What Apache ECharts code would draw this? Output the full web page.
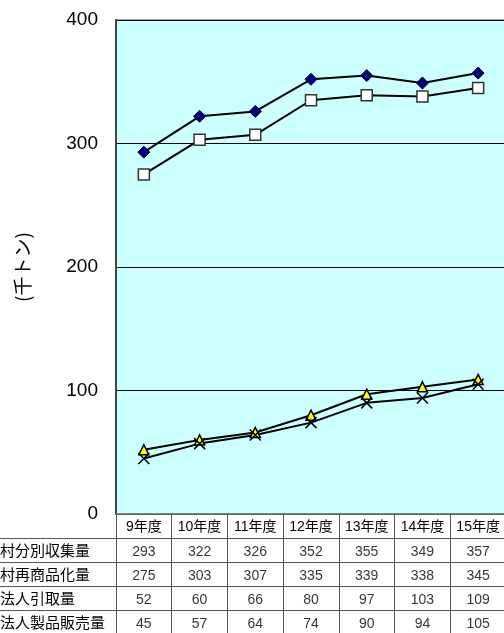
<!DOCTYPE html>
<html>
<head>
<meta charset="utf-8">
<script src="https://cdn.jsdelivr.net/npm/echarts@6/dist/echarts.min.js"></script>
<style>
html,body{margin:0;padding:0;background:#fff;}
#c{width:504px;height:633px;}
</style>
</head>
<body>
<div id="c"></div>
<script>
var categories = ['9年度','10年度','11年度','12年度','13年度','14年度','15年度'];
var rowLabels = ['市町村分別収集量','市町村再商品化量','指定法人引取量','指定法人製品販売量'];
var collected = [293,322,326,352,355,349,357];
var recycled = [275,303,307,335,339,338,345];
var takenOver = [52,60,66,80,97,103,109];
var sold = [45,57,64,74,90,94,105];
var yTicks = [0,100,200,300,400];
var yName = '(千トン)';

var seriesValues = [collected, recycled, takenOver, sold];
var FONT = '"Liberation Sans", Arial, "Noto Sans CJK JP", sans-serif';
var CJK = '"Noto Sans CJK JP", "Liberation Sans", sans-serif';
var TL = '#555';

var chart = echarts.init(document.getElementById('c'), null, {renderer:'canvas'});

var lineSeries = [
  {name: rowLabels[0], data: collected, symbol: 'diamond', symbolSize: 12,
   itemStyle: {color: '#000080', borderColor: '#000', borderWidth: 1}},
  {name: rowLabels[1], data: recycled, symbol: 'rect', symbolSize: 11,
   itemStyle: {color: '#fff', borderColor: '#333', borderWidth: 1.5}},
  {name: rowLabels[2], data: takenOver, symbol: 'triangle', symbolSize: 10,
   itemStyle: {color: '#ffff00', borderColor: '#000', borderWidth: 1.5}},
  {name: rowLabels[3], data: sold, symbol: 'path://M0,0L10,10M10,0L0,10', symbolSize: 11,
   itemStyle: {color: 'rgba(0,0,0,0)', borderColor: '#000', borderWidth: 1.5}}
].map(function(s){
  return Object.assign({type:'line', xAxisIndex:0, yAxisIndex:0,
    lineStyle:{color:'#000', width:2}, showSymbol:true, animation:false, z:3}, s);
});

var cellSeries = seriesValues.map(function(vals, r){
  return {
    type: 'scatter', xAxisIndex: 1, yAxisIndex: 1, animation: false,
    symbolSize: 1, itemStyle: {color: 'rgba(0,0,0,0)'}, silent: true,
    data: vals.map(function(v, i){ return [i, r, v]; }),
    label: {show: true, position: 'inside', formatter: function(p){ return p.value[2]; },
      color: '#000', fontSize: 14, fontFamily: FONT, offset: [0, 2]}
  };
});

var option = {
  backgroundColor: '#fff',
  animation: false,
  grid: [
    {left: 116, top: 20, width: 390, height: 494, show: true, containLabel: false, outerBoundsMode: 'none',
     backgroundColor: '#CCFFFF', borderColor: '#808080', borderWidth: 1.5},
    {left: 116, top: 538.5, width: 390, height: 95.2, containLabel: false, outerBoundsMode: 'none'}
  ],
  xAxis: [
    {type: 'category', gridIndex: 0, data: categories, boundaryGap: true,
     axisLine: {show: true, lineStyle: {color: '#808080', width: 1.5}},
     axisTick: {show: true, length: 24.5, lineStyle: {color: TL, width: 1}},
     axisLabel: {interval: 0, color: '#000', fontSize: 14, fontFamily: FONT, margin: 6}},
    {type: 'category', gridIndex: 1, data: categories, boundaryGap: true, position: 'top',
     axisLine: {show: true, lineStyle: {color: TL, width: 1}},
     axisTick: {show: false}, axisLabel: {show: false},
     splitLine: {show: true, interval: 0, lineStyle: {color: TL, width: 1}}}
  ],
  yAxis: [
    {type: 'value', gridIndex: 0, min: yTicks[0], max: yTicks[yTicks.length-1], interval: 100,
     name: yName, nameLocation: 'middle', nameRotate: 90, nameGap: 84,
     nameTextStyle: {color: '#000', fontSize: 19, fontFamily: CJK},
     axisLine: {show: true, lineStyle: {color: '#444', width: 2}},
     axisTick: {show: false},
     axisLabel: {color: '#000', fontSize: 19, fontFamily: FONT, margin: 18},
     splitLine: {show: true, lineStyle: {color: '#000', width: 1}}},
    {type: 'category', gridIndex: 1, data: rowLabels, inverse: true, boundaryGap: true,
     axisLine: {show: true, lineStyle: {color: TL, width: 1}},
     axisTick: {show: true, length: 118, interval: 0, lineStyle: {color: TL, width: 1}},
     axisLabel: {interval: 0, align: 'left', margin: 146, color: '#000', fontSize: 15, fontFamily: CJK},
     splitLine: {show: true, interval: 0, lineStyle: {color: TL, width: 1}}}
  ],
  series: lineSeries.concat(cellSeries)
};
chart.setOption(option);
</script>
</body>
</html>
